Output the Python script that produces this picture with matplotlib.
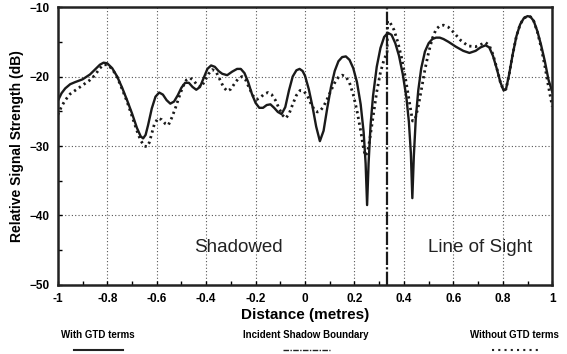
import numpy as np
import matplotlib.pyplot as plt
from matplotlib.lines import Line2D

plt.rcParams['font.family'] = ['Liberation Sans', 'DejaVu Sans']

# with GTD terms (solid)
x_gtd = [-1.00, -0.985, -0.97, -0.95, -0.93, -0.90, -0.87, -0.85, -0.83, -0.815,
         -0.80, -0.78, -0.76, -0.74, -0.72, -0.70, -0.68, -0.665, -0.655, -0.645,
         -0.635, -0.62, -0.605, -0.59, -0.575, -0.56, -0.545, -0.53, -0.515, -0.50,
         -0.485, -0.47, -0.455, -0.44, -0.425, -0.41, -0.395, -0.38, -0.365, -0.35,
         -0.335, -0.315, -0.295, -0.275, -0.26, -0.245, -0.23, -0.215, -0.20, -0.185,
         -0.17, -0.155, -0.14, -0.125, -0.11, -0.095, -0.08, -0.065, -0.05, -0.035,
         -0.022, -0.01, 0.00, 0.015, 0.03, 0.045, 0.06, 0.075, 0.09, 0.105,
         0.12, 0.135, 0.15, 0.165, 0.18, 0.195, 0.21, 0.225, 0.237, 0.245,
         0.251, 0.257, 0.265, 0.275, 0.29, 0.305, 0.32, 0.335, 0.35, 0.365,
         0.38, 0.395, 0.41, 0.42, 0.428, 0.434, 0.44, 0.448, 0.458, 0.47,
         0.485, 0.50, 0.515, 0.53, 0.545, 0.56, 0.58, 0.61, 0.64, 0.665,
         0.69, 0.71, 0.73, 0.745, 0.76, 0.775, 0.79, 0.803, 0.813, 0.825,
         0.84, 0.855, 0.87, 0.885, 0.9, 0.912, 0.925, 0.94, 0.955, 0.97,
         0.985, 1.00]
y_gtd = [-23.5, -22.4, -21.7, -21.1, -20.8, -20.4, -19.7, -19.0, -18.3, -18.0,
         -18.1, -18.8, -20.0, -21.6, -23.4, -25.3, -27.4, -28.6, -28.9, -28.4,
         -27.0, -24.6, -22.9, -22.3, -22.6, -23.4, -23.9, -23.6, -22.7, -21.6,
         -20.9, -20.9, -21.5, -21.9, -21.5, -20.2, -18.9, -18.4, -18.6, -19.2,
         -19.6, -19.8, -19.3, -18.9, -18.9, -19.5, -20.8, -22.5, -23.8, -24.5,
         -24.5, -24.1, -24.0, -24.5, -25.1, -25.4, -24.4, -22.0, -20.0, -19.1,
         -18.9, -19.2, -19.9, -21.8, -24.3, -27.2, -29.3, -27.8, -24.5, -21.5,
         -19.2, -17.8, -17.2, -17.1, -17.6, -18.8, -20.8, -24.0, -28.0, -32.5,
         -38.5, -32.5, -27.0, -22.8, -18.6, -15.9, -14.3, -13.7, -14.0, -15.2,
         -17.0, -19.6, -23.0, -26.5, -31.0, -37.5, -31.5, -26.0, -22.0, -18.8,
         -16.4, -15.2, -14.6, -14.4, -14.4, -14.6, -15.0, -15.7, -16.3, -16.6,
         -16.3, -15.8, -15.5, -15.8, -17.0, -18.8, -20.8, -22.0, -21.8, -19.8,
         -16.8, -14.2, -12.5, -11.6, -11.3, -11.4, -12.0, -13.5, -15.5, -17.8,
         -20.5, -22.2]

# without GTD terms (dotted)
x_geo = [-1.00, -0.985, -0.97, -0.95, -0.93, -0.91, -0.89, -0.87, -0.85, -0.83,
         -0.815, -0.80, -0.78, -0.76, -0.74, -0.72, -0.70, -0.68, -0.665, -0.65,
         -0.64, -0.63, -0.62, -0.61, -0.595, -0.58, -0.565, -0.553, -0.54, -0.525,
         -0.51, -0.495, -0.48, -0.465, -0.45, -0.435, -0.42, -0.405, -0.39, -0.375,
         -0.36, -0.345, -0.33, -0.315, -0.30, -0.285, -0.27, -0.255, -0.24, -0.225,
         -0.21, -0.195, -0.18, -0.165, -0.15, -0.135, -0.12, -0.105, -0.09, -0.078,
         -0.065, -0.05, -0.035, -0.02, -0.005, 0.01, 0.025, 0.04, 0.05, 0.06,
         0.075, 0.09, 0.105, 0.12, 0.135, 0.15, 0.165, 0.18, 0.195, 0.21,
         0.225, 0.235, 0.243, 0.252, 0.262, 0.275, 0.29, 0.305, 0.32, 0.332,
         0.334, 0.345, 0.36, 0.375, 0.39, 0.405, 0.418, 0.428, 0.435, 0.445,
         0.458, 0.47, 0.485, 0.50, 0.515, 0.53, 0.545, 0.56, 0.58, 0.60,
         0.63, 0.66, 0.69, 0.71, 0.73, 0.745, 0.76, 0.775, 0.79, 0.803,
         0.813, 0.825, 0.84, 0.855, 0.87, 0.885, 0.9, 0.912, 0.925, 0.94,
         0.955, 0.97, 0.985, 1.00]
y_geo = [-25.5, -24.3, -23.4, -22.5, -22.0, -21.5, -21.0, -20.5, -19.8, -18.8,
         -18.3, -18.3, -18.9, -20.1, -21.8, -23.6, -25.7, -27.8, -29.2, -30.0,
         -30.1, -29.5, -28.2, -26.9, -26.0, -26.2, -26.8, -27.0, -26.0, -24.6,
         -23.0, -21.5, -20.5, -20.2, -20.6, -21.3, -21.5, -20.6, -19.6, -19.0,
         -19.3, -20.4, -21.5, -22.1, -21.8, -21.0, -20.3, -20.0, -20.5, -21.7,
         -22.8, -23.3, -23.0, -22.5, -22.3, -22.6, -23.4, -24.6, -25.6, -26.0,
         -25.4, -24.0, -22.7, -22.0, -22.1, -22.8, -24.0, -24.9, -25.1, -25.0,
         -24.3, -23.2, -22.0, -20.9, -20.1, -19.8, -20.0, -20.9, -22.6, -24.9,
         -27.8, -30.0, -31.4, -31.0, -29.0, -25.8, -22.2, -19.4, -17.5, -16.6,
         -12.0, -12.3, -13.3, -15.0, -17.2, -20.0, -22.8, -25.0, -26.4, -26.2,
         -24.3, -22.0, -19.0, -16.5, -14.5, -13.2, -12.7, -12.6, -12.9, -13.6,
         -14.8, -15.6, -15.7, -15.4, -15.1, -15.5, -16.8, -18.7, -20.8, -22.0,
         -21.8, -19.8, -16.8, -14.2, -12.5, -11.6, -11.3, -11.4, -12.0, -13.6,
         -15.8, -18.5, -21.5, -24.3]

shadow_boundary = 1.0 / 3.0
x_ticks = [-1, -0.8, -0.6, -0.4, -0.2, 0, 0.2, 0.4, 0.6, 0.8, 1]
x_ticklabels = ['-1', '-0.8', '-0.6', '-0.4', '-0.2', '0', '0.2', '0.4', '0.6', '0.8', '1']
y_ticks = [-50, -40, -30, -20, -10]

fig = plt.figure(figsize=(5.67, 3.54), dpi=100)
ax = fig.add_axes([0.102, 0.195, 0.872, 0.785])

ax.plot(x_gtd, y_gtd, color='#1a1a1a', lw=1.7, solid_joinstyle='round')
ax.plot(x_geo, y_geo, color='#1a1a1a', lw=2.0, linestyle=(0, (0.8, 1.3)))
ax.axvline(shadow_boundary, color='#1a1a1a', lw=1.6, linestyle=(0, (6, 1, 1, 1)))

ax.set_xlim(-1, 1)
ax.set_ylim(-50, -10)
ax.set_xticks(x_ticks)
ax.set_xticklabels(x_ticklabels)
ax.set_yticks(y_ticks)
ax.set_xticks(np.arange(-0.9, 1.0, 0.2), minor=True)
ax.set_yticks(np.arange(-45, -10, 10), minor=True)
ax.tick_params(which='both', direction='in', length=3, width=1, labelsize=8.5, pad=6)
for lab in ax.get_xticklabels() + ax.get_yticklabels():
    lab.set_fontweight('bold')

ax.grid(True, which='major', color='#555555', lw=0.8, linestyle=(0, (1, 2)))
for s in ax.spines.values():
    s.set_linewidth(1.8)
    s.set_color('#222222')

ax.set_xlabel('Distance (metres)', fontsize=11, fontweight='bold', labelpad=2)
ax.set_ylabel('Relative Signal Strength (dB)', fontsize=10, fontweight='bold', labelpad=4)

ax.text(-0.27, -44.6, 'Shadowed', fontsize=13.5, ha='center', va='center', color='#222222')
ax.text(0.71, -44.6, 'Line of Sight', fontsize=13.5, ha='center', va='center', color='#222222')

# legend strip under the axes
fig.text(98 / 567, 1 - 335 / 354, 'With GTD terms', fontsize=7, fontweight='bold',
         ha='center', va='center')
fig.text(306 / 567, 1 - 335 / 354, 'Incident Shadow Boundary', fontsize=7, fontweight='bold',
         ha='center', va='center')
fig.text(514 / 567, 1 - 335 / 354, 'Without GTD terms', fontsize=7, fontweight='bold',
         ha='center', va='center')
yl = 1 - 350 / 354
fig.add_artist(Line2D([74 / 567, 123 / 567], [yl, yl], color='#222222', lw=1.5))
fig.add_artist(Line2D([283 / 567, 330 / 567], [yl, yl], color='#222222', lw=1.0,
                      linestyle=(0, (4, 1, 1, 1))))
fig.add_artist(Line2D([492 / 567, 538 / 567], [yl, yl], color='#222222', lw=1.5,
                      linestyle=(0, (1, 2))))

fig.savefig('out.png', dpi=100)
